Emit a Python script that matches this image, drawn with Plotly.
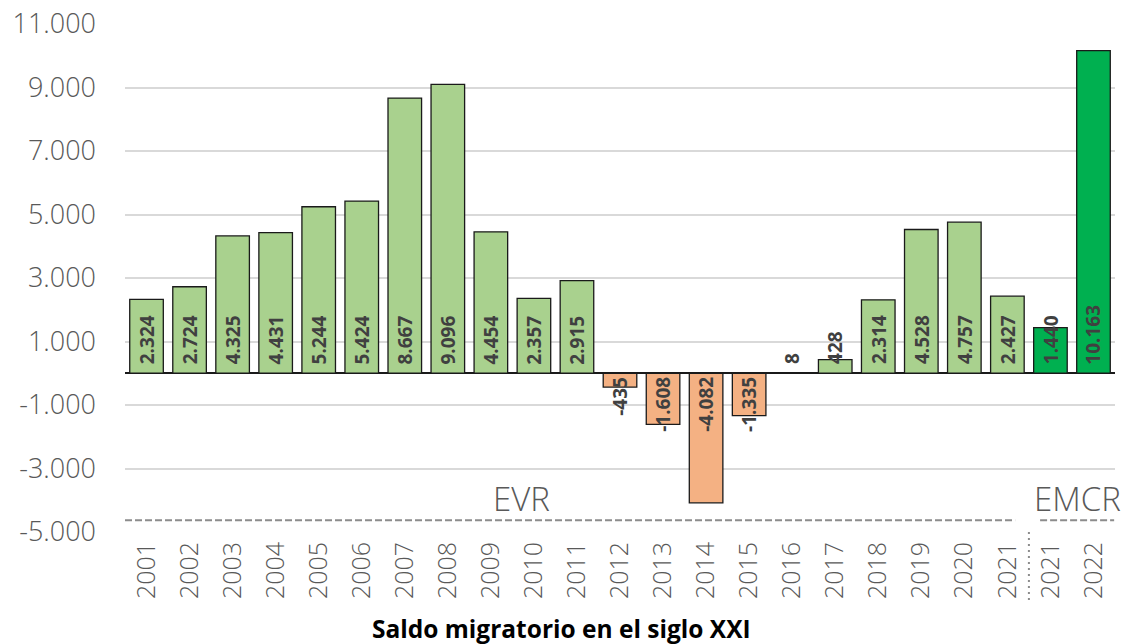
import plotly.graph_objects as go

# ---- data ----
year_labels = ["2001", "2002", "2003", "2004", "2005", "2006", "2007", "2008", "2009", "2010",
               "2011", "2012", "2013", "2014", "2015", "2016", "2017", "2018", "2019", "2020",
               "2021", "2021", "2022"]
saldo = [2324, 2724, 4325, 4431, 5244, 5424, 8667, 9096, 4454, 2357,
         2915, -435, -1608, -4082, -1335, 8, 428, 2314, 4528, 4757,
         2427, 1440, 10163]
source = ["EVR"] * 21 + ["EMCR"] * 2
y_ticks = [-5000, -3000, -1000, 1000, 3000, 5000, 7000, 9000, 11000]
title_text = "Saldo migratorio en el siglo XXI"

# ---- styling ----
C_POS = "#A9D18E"
C_NEG = "#F4B183"
C_EMCR = "#00B050"
GREY_TXT = "#595959"
LABEL_TXT = "#404040"
FONT = "Open Sans"

def fmt(v):
    return f"{v:,}".replace(",", ".")

xpos = list(range(len(year_labels)))
colors = [C_EMCR if s == "EMCR" else (C_NEG if v < 0 else C_POS) for v, s in zip(saldo, source)]

fig = go.Figure()
fig.add_trace(go.Bar(
    x=xpos, y=saldo,
    marker=dict(color=colors, line=dict(color="#1a1a1a", width=1.3)),
    width=0.78,
    hoverinfo="skip",
))

annotations = []
for i, v in enumerate(saldo):
    annotations.append(dict(
        x=i, y=0, xref="x", yref="y",
        text=f"<b>{fmt(v)}</b>", showarrow=False, textangle=-90,
        yanchor="bottom" if v >= 0 else "top",
        yshift=7 if v >= 0 else -2,
        font=dict(family=FONT, size=19, color=LABEL_TXT),
    ))

# group labels
n_evr = source.count("EVR")
n_all = len(source)
annotations.append(dict(x=(n_evr - 1) / 2 - 1.28, y=-3950, xref="x", yref="y", text="EVR",
                        showarrow=False, font=dict(family=FONT, size=33, color=GREY_TXT, weight=300)))
annotations.append(dict(x=n_evr + (n_all - n_evr - 1) / 2 + 0.12, y=-3950, xref="x", yref="y", text="EMCR",
                        showarrow=False, font=dict(family=FONT, size=33, color=GREY_TXT, weight=300)))
annotations.append(dict(x=0.441, y=-0.19, xref="paper", yref="paper", text=f"<b>{title_text}</b>",
                        showarrow=False, yanchor="middle",
                        font=dict(family=FONT, size=24.5, color="#000000")))

shapes = [
    dict(type="line", xref="x", yref="y", x0=-0.5, x1=n_evr - 0.82, y0=-4630, y1=-4630,
         line=dict(color="#8C8C8C", width=2, dash="7px,3px")),
    dict(type="line", xref="x", yref="y", x0=n_evr - 0.24, x1=n_all - 0.52, y0=-4630, y1=-4630,
         line=dict(color="#8C8C8C", width=2, dash="7px,3px")),
    dict(type="line", xref="x", yref="paper", x0=n_evr - 0.5, x1=n_evr - 0.5, y0=0, y1=-0.138,
         line=dict(color="#8C8C8C", width=2, dash="2px,4px")),
]

fig.update_layout(
    width=1126, height=644,
    margin=dict(l=125, r=11, t=24, b=112, autoexpand=False),
    paper_bgcolor="white", plot_bgcolor="white",
    showlegend=False,
    annotations=annotations,
    shapes=shapes,
    bargap=0.2,
)
fig.update_xaxes(
    range=[-0.5, n_all - 0.5],
    tickmode="array", tickvals=xpos, ticktext=year_labels,
    tickangle=-90, tickfont=dict(family=FONT, size=25, color=GREY_TXT, weight=300),
    showgrid=False, zeroline=False, showline=False, ticks="",
    ticklabelstandoff=4, automargin=False,
)
fig.update_yaxes(
    range=[-5000, 11000],
    tickmode="array", tickvals=y_ticks, ticktext=[fmt(t) for t in y_ticks],
    tickfont=dict(family=FONT, size=27, color=GREY_TXT, weight=300),
    showgrid=True, gridcolor="#D9D9D9", gridwidth=1.5,
    zeroline=True, zerolinecolor="#1a1a1a", zerolinewidth=2,
    showline=False, ticks="",
    ticklabelstandoff=28, automargin=False,
)

fig.write_html("out.html", config={"displayModeBar": False},
               post_script="document.body.style.margin='0';document.body.style.overflow='hidden';")
